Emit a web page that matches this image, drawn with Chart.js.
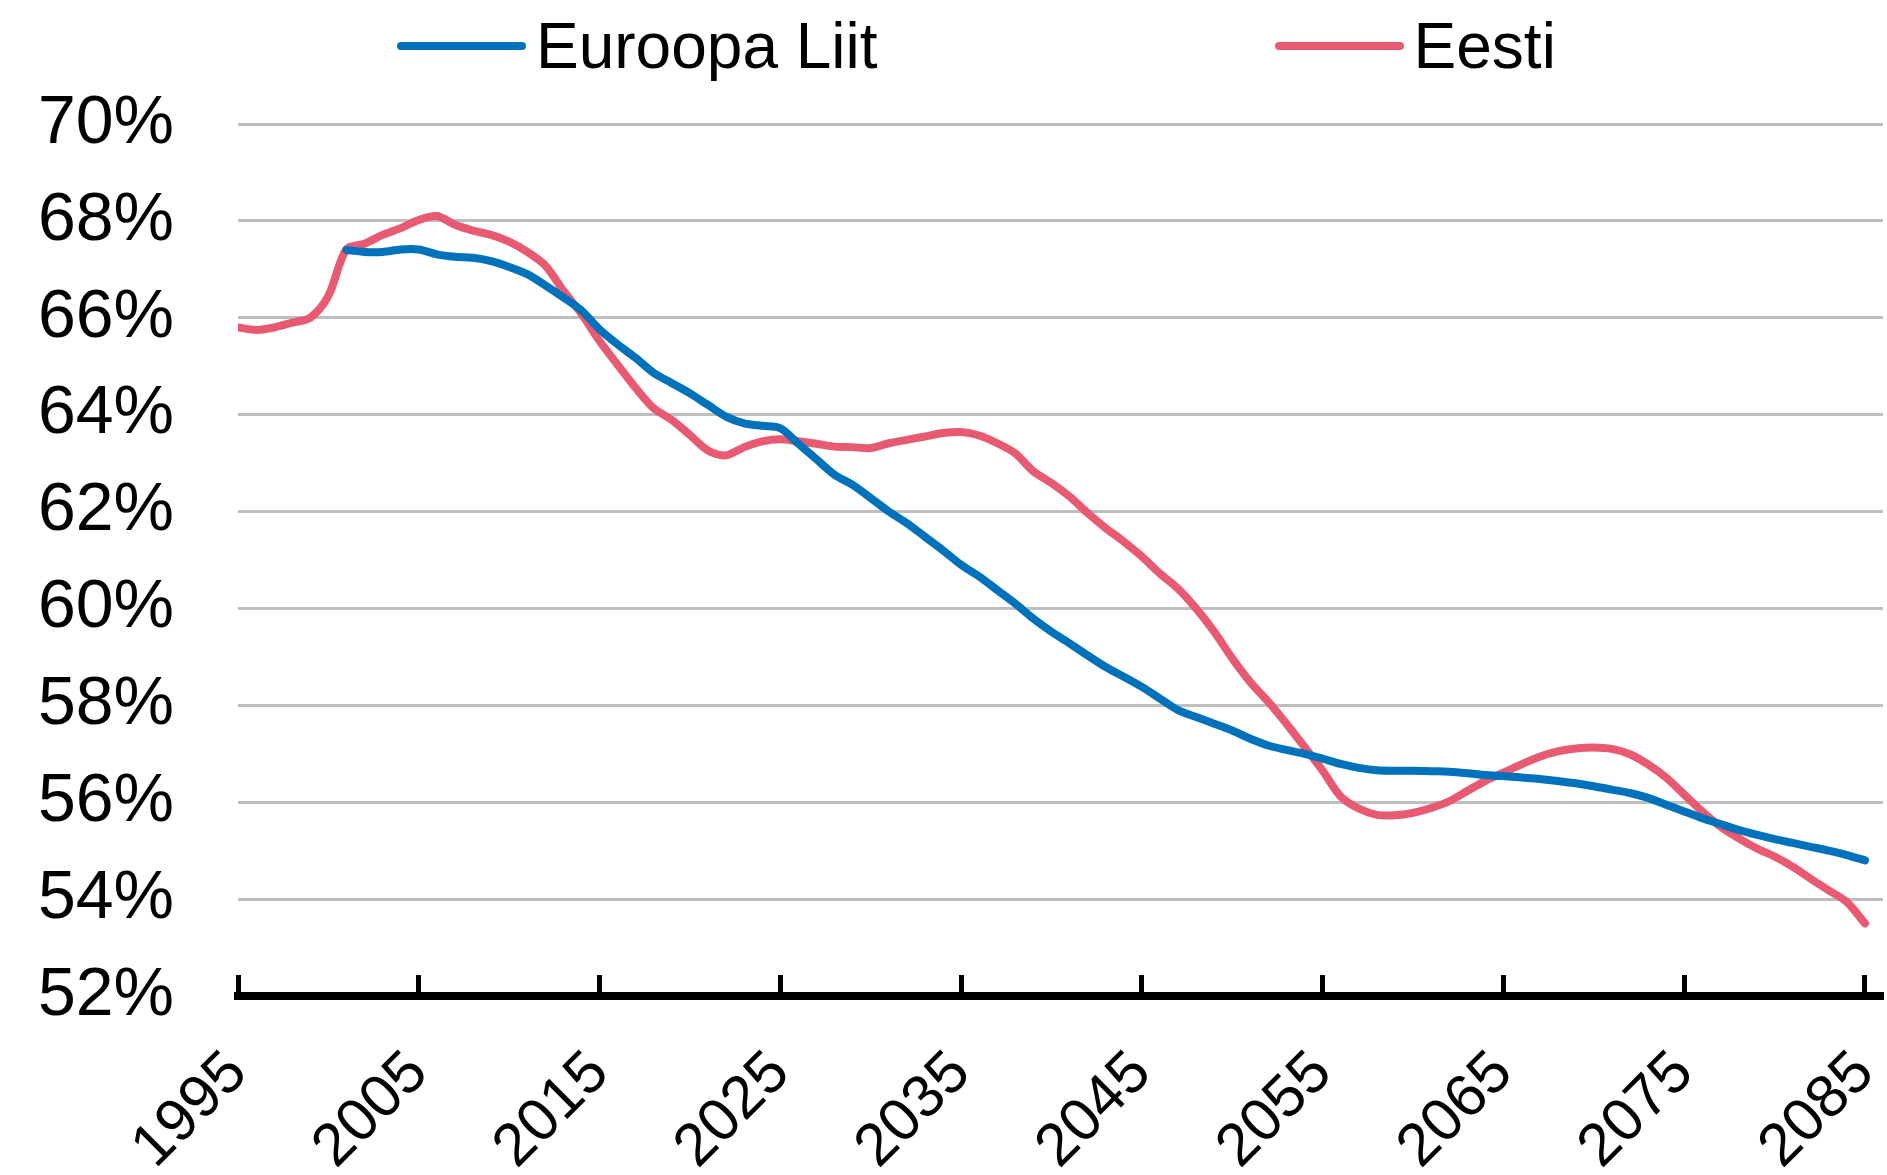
<!DOCTYPE html>
<html lang="et">
<head>
<meta charset="UTF-8">
<title>Tööealine rahvastik</title>
<script src="https://cdn.jsdelivr.net/npm/chart.js"></script>
<style>
  body { margin: 0; background: #fff; }
  #wrap { position: relative; width: 1887px; height: 1175px; }
  #legend {
    position: absolute; top: 14px; left: 397px;
    display: flex; gap: 397px;
    font-family: "Liberation Sans", Arial, sans-serif; font-size: 64px; line-height: 1; color: #000;
  }
  #legend .item { display: flex; align-items: center; }
  #legend .swatch { width: 129px; height: 8px; border-radius: 4px; margin-right: 10px; }
</style>
</head>
<body>
<div id="wrap">
  <div id="legend"></div>
  <canvas id="chart" width="1887" height="1175"></canvas>
</div>
<script>
// years on the x axis
const years = [
  1995, 1996, 1997, 1998, 1999, 2000, 2001, 2002, 2003, 2004,
  2005, 2006, 2007, 2008, 2009, 2010, 2011, 2012, 2013, 2014,
  2015, 2016, 2017, 2018, 2019, 2020, 2021, 2022, 2023, 2024,
  2025, 2026, 2027, 2028, 2029, 2030, 2031, 2032, 2033, 2034,
  2035, 2036, 2037, 2038, 2039, 2040, 2041, 2042, 2043, 2044,
  2045, 2046, 2047, 2048, 2049, 2050, 2051, 2052, 2053, 2054,
  2055, 2056, 2057, 2058, 2059, 2060, 2061, 2062, 2063, 2064,
  2065, 2066, 2067, 2068, 2069, 2070, 2071, 2072, 2073, 2074,
  2075, 2076, 2077, 2078, 2079, 2080, 2081, 2082, 2083, 2084,
  2085
];

// Euroopa Liit (no values before 2001)
const euValues = [
  null, null, null, null, null, null, 67.40, 67.36, 67.36, 67.41,
  67.41, 67.31, 67.26, 67.24, 67.17, 67.05, 66.90, 66.67, 66.42, 66.15,
  65.76, 65.45, 65.17, 64.86, 64.65, 64.44, 64.20, 63.96, 63.82, 63.77,
  63.72, 63.40, 63.08, 62.76, 62.55, 62.28, 62.00, 61.76, 61.48, 61.20,
  60.90, 60.66, 60.38, 60.10, 59.79, 59.52, 59.28, 59.03, 58.79, 58.59,
  58.38, 58.14, 57.90, 57.76, 57.62, 57.48, 57.31, 57.17, 57.08, 57.00,
  56.90, 56.79, 56.71, 56.66, 56.65, 56.65, 56.64, 56.63, 56.60, 56.56,
  56.54, 56.51, 56.48, 56.44, 56.39, 56.33, 56.26, 56.19, 56.09, 55.95,
  55.81, 55.67, 55.55, 55.43, 55.33, 55.24, 55.16, 55.08, 55.00, 54.91,
  54.80
];

// Eesti
const eeValues = [
  65.80, 65.75, 65.80, 65.90, 66.00, 66.45, 67.42, 67.53, 67.71, 67.85,
  68.02, 68.10, 67.92, 67.80, 67.71, 67.57, 67.36, 67.08, 66.56, 66.08,
  65.52, 65.03, 64.55, 64.13, 63.89, 63.58, 63.26, 63.16, 63.33, 63.45,
  63.49, 63.45, 63.40, 63.34, 63.33, 63.31, 63.41, 63.48, 63.55, 63.62,
  63.64, 63.57, 63.41, 63.20, 62.83, 62.59, 62.31, 61.97, 61.66, 61.38,
  61.07, 60.72, 60.41, 60.00, 59.52, 58.97, 58.48, 58.07, 57.62, 57.14,
  56.65, 56.12, 55.87, 55.74, 55.73, 55.78, 55.88, 56.02, 56.23, 56.44,
  56.61, 56.78, 56.94, 57.05, 57.11, 57.13, 57.10, 56.99, 56.78, 56.51,
  56.16, 55.81, 55.50, 55.26, 55.05, 54.88, 54.67, 54.42, 54.18, 53.94,
  53.50
];

const seriesNames = ['Euroopa Liit', 'Eesti'];
const seriesColors = ['#0072BC', '#E85A71'];
const xTicks = [1995, 2005, 2015, 2025, 2035, 2045, 2055, 2065, 2075, 2085];

const FONT = '"Liberation Sans", Arial, sans-serif';

// html legend
const legendEl = document.getElementById('legend');
seriesNames.forEach((name, i) => {
  const item = document.createElement('div');
  item.className = 'item';
  const sw = document.createElement('span');
  sw.className = 'swatch';
  sw.style.background = seriesColors[i];
  const txt = document.createElement('span');
  txt.textContent = name;
  item.appendChild(sw);
  item.appendChild(txt);
  legendEl.appendChild(item);
});

const toPoints = vals => years.map((y, i) => ({ x: y, y: vals[i] }));

new Chart(document.getElementById('chart'), {
  type: 'line',
  data: {
    datasets: [
      { label: seriesNames[0], data: toPoints(euValues), borderColor: seriesColors[0], borderWidth: 8 },
      { label: seriesNames[1], data: toPoints(eeValues), borderColor: seriesColors[1], borderWidth: 8 }
    ]
  },
  options: {
    responsive: false,
    animation: false,
    devicePixelRatio: 1,
    layout: { padding: { top: 124, right: 4, left: 0, bottom: 0 } },
    elements: {
      line: { tension: 0.3, fill: false, borderCapStyle: 'round', borderJoinStyle: 'round' },
      point: { radius: 0 }
    },
    plugins: { legend: { display: false }, tooltip: { enabled: false } },
    scales: {
      x: {
        type: 'linear',
        min: 1995,
        max: 2086,
        afterBuildTicks: s => { s.ticks = xTicks.map(v => ({ value: v })); },
        afterFit: s => { s.height = 179; s.paddingLeft = 0; s.paddingRight = 0; },
        border: { display: true, color: '#000', width: 8 },
        grid: { drawOnChartArea: false, drawTicks: true, tickLength: -21, tickWidth: 5, tickColor: '#000' },
        ticks: {
          font: { family: FONT, size: 60 },
          color: '#000',
          minRotation: 45,
          maxRotation: 45,
          padding: 63,
          autoSkip: false,
          callback: v => String(v)
        }
      },
      y: {
        min: 52,
        max: 70,
        afterFit: s => { s.width = 238; },
        border: { display: false },
        grid: { color: '#BFBFBF', lineWidth: 3, drawTicks: false },
        ticks: {
          stepSize: 2,
          font: { family: FONT, size: 68 },
          color: '#000',
          padding: 64,
          callback: v => v + '%'
        }
      }
    }
  }
});
</script>
</body>
</html>
